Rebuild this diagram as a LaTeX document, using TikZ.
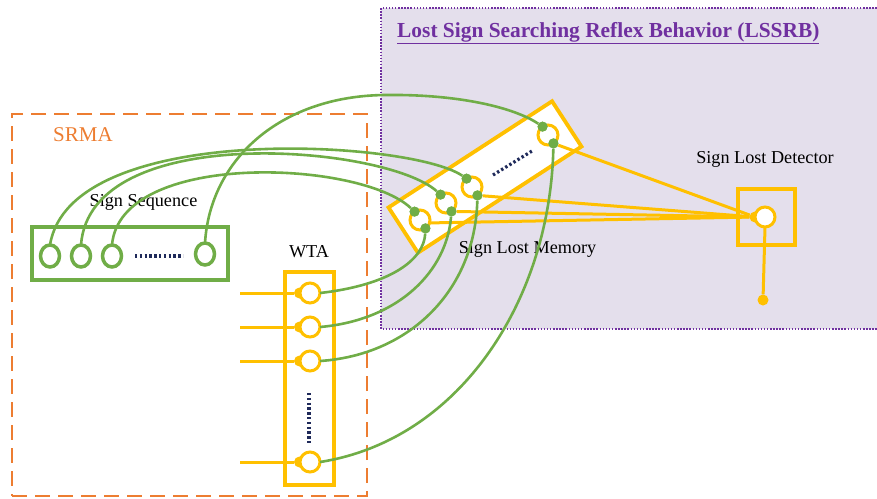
\documentclass[tikz,border=0pt]{standalone}
\usepackage{fontspec}
\setmainfont{Liberation Serif}
\usetikzlibrary{shapes.geometric}
\definecolor{gr}{HTML}{70AD47}
\definecolor{yl}{HTML}{FFC000}
\definecolor{org}{HTML}{ED7D31}
\definecolor{pur}{HTML}{7030A0}
\definecolor{lav}{HTML}{E4DFEC}
\definecolor{nav}{HTML}{1F2A5A}
\begin{document}
\begin{tikzpicture}[x=1pt,y=-1pt,
 gline/.style={gr, line width=2.6},
 yline/.style={yl, line width=3},
 ycirc/.style={circle, draw=yl, line width=3, fill=white, minimum size=20, inner sep=0, outer sep=0},
 gcirc/.style={ellipse, draw=gr, line width=3.5, fill=white, minimum width=19, minimum height=22, inner sep=0, outer sep=0},
 gdot/.style={circle, fill=gr, minimum size=10, inner sep=0},
 ydot/.style={circle, fill=yl, minimum size=11, inner sep=0},
 dotline/.style={nav, line width=3.2, dash pattern=on 2.4pt off 2.4pt},
 lbl/.style={font=\fontsize{18.2}{20}\selectfont, inner sep=0, anchor=base},
 ybox/.style={draw=yl, line width=3.8, inner sep=0, outer sep=0},
]
\useasboundingbox (0,0) rectangle (877,498);
% LSSRB region
\node[fill=lav, minimum width=499, minimum height=321, inner sep=0, outer sep=0] (lssrb) at (630.5,168.5) {};
\draw[pur, line width=2.6, dash pattern=on 1.5pt off 1.6pt] (lssrb.north east) -- (lssrb.north west) -- (lssrb.south west) -- (lssrb.south east);
\node[font=\bfseries\fontsize{21.4}{24}\selectfont, text=pur, inner sep=0, anchor=base west] (title) at (397,37) {\underline{Lost Sign Searching Reflex Behavior (LSSRB)}};
% SRMA region
\node[draw=org, line width=2.8, dash pattern=on 15pt off 8pt, minimum width=355, minimum height=382, inner sep=0, outer sep=0] (srma) at (189.5,305) {};
\node[font=\fontsize{21}{24}\selectfont, text=org, inner sep=0] (srmat) at (83,135) {SRMA};
% labels
\node[lbl] (seqt) at (143.5,206) {Sign Sequence};
\node[lbl] (wtat) at (309,257) {WTA};
\node[lbl] (memt) at (527.5,253) {Sign Lost Memory};
\node[lbl] (dett) at (765,163) {Sign Lost Detector};
% Sign sequence
\node[draw=gr, line width=4, minimum width=196, minimum height=53, inner sep=0, outer sep=0] (seqbox) at (130,253) {};
\node[gcirc] (seq1) at (50,256) {};
\node[gcirc] (seq2) at (81,256) {};
\node[gcirc] (seq3) at (112,256) {};
\node[gcirc] (seq4) at (205,254) {};
\coordinate (sd1) at (135,256);
\coordinate (sd2) at (183,256);
\draw[dotline] (sd1) -- (sd2);
% WTA
\node[ybox, minimum width=49, minimum height=213] (wta) at (309.5,378.5) {};
\foreach \i/\y in {1/293,2/327,3/361,4/462}{
  \coordinate (in\i) at (240,\y);
  \node[ydot] (wd\i) at (299.5,\y) {};
  \draw[yline] (in\i) -- (wd\i);
  \node[ycirc] (w\i) at (310,\y) {};
}
\coordinate (wv1) at (309,393);
\coordinate (wv2) at (309,443);
\draw[dotline] (wv1) -- (wv2);
% Memory
\node[ybox, fill=white, rotate=33, minimum width=195, minimum height=54] (mem) at (485,177) {};
\foreach \i/\x/\y in {1/420/220,2/446/203,3/472/187,4/548/135}{
  \node[ycirc] (m\i) at (\x,\y) {};
}
\coordinate (md1) at (493,175);
\coordinate (md2) at (532,151);
\draw[dotline] (md1) -- (md2);
% Detector
\node[ybox, minimum width=57, minimum height=56] (detbox) at (766.5,217) {};
\node[ydot] (detin) at (755,217) {};
\node[ycirc] (det) at (765,217) {};
\node[ydot] (dout) at (763,300) {};
\draw[yline] (det.south) -- (dout);
% memory dots
\foreach \i in {1,2,3,4}{
  \node[gdot] (m\i a) at (m\i.123) {};
  \node[gdot] (m\i b) at (m\i.-57) {};
}
% yellow lines memory -> detector
\draw[yline] (m1.-17) -- (detin);
\draw[yline] (m2b) -- (detin);
\draw[yline] (m3b) -- (detin);
\draw[yline] (m4b) -- (detin);
% green curves
\coordinate (apex) at (385,95);
\draw[gline] (seq4.north) .. controls (210,160) and (280,96) .. (apex) .. controls (460,94) and (515,108) .. (m4a);
\draw[gline] (seq1.north) .. controls (70,120) and (410,140) .. (m3a);
\draw[gline] (seq2.north) .. controls (90,120) and (385,145) .. (m2a);
\draw[gline] (seq3.north) .. controls (120,150) and (360,160) .. (m1a);
\draw[gline] (m1b) .. controls (424,260) and (390,285) .. (w1.east);
\draw[gline] (m2b) .. controls (447,270) and (400,320) .. (w2.east);
\draw[gline] (m3b) .. controls (475,290) and (410,355) .. (w3.east);
\draw[gline] (m4b) .. controls (550,300) and (460,440) .. (w4.east);
% redraw dots on top
\foreach \i in {1,2,3,4}{
  \node[gdot] at (m\i a) {};
  \node[gdot] at (m\i b) {};
}
\end{tikzpicture}
\end{document}
